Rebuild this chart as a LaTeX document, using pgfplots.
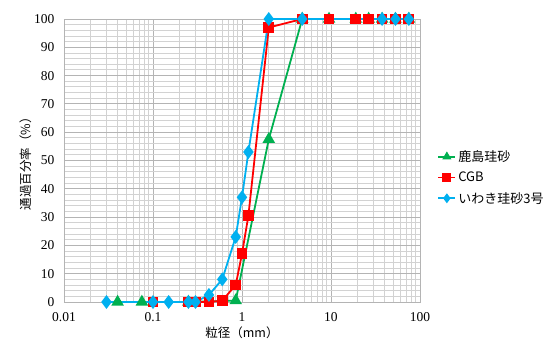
\documentclass[border=0pt]{standalone}
\usepackage{pgfplots}
\pgfplotsset{compat=1.18}
\usepackage{fontspec}
\setmainfont{Liberation Serif}
\newfontfamily\jp{Noto Sans CJK JP}
\definecolor{cgreen}{RGB}{0,176,80}
\definecolor{cred}{RGB}{255,0,0}
\definecolor{cblue}{RGB}{0,176,240}
\definecolor{gmaj}{RGB}{180,180,180}
\definecolor{gmin}{RGB}{210,210,210}
\begin{document}
\begin{tikzpicture}
\path[use as bounding box] (-64pt,-47pt) rectangle (485pt,302pt);
\begin{axis}[
  at={(0,0)}, anchor=south west,
  scale only axis, width=356pt, height=283pt,
  xmode=log, xmin=0.01, xmax=100,
  ymin=0, ymax=100,
  ytick={0,10,...,100},
  minor y tick num=4,
  xtick={0.01,0.1,1,10,100},
  xticklabels={0.01,0.1,1,10,100},
  grid=both,
  major grid style={gmaj, line width=0.9pt},
  minor grid style={gmin, line width=0.9pt},
  axis line style={gmaj, line width=0.9pt},
  major tick length=0pt, minor tick length=0pt,
  tick label style={font=\fontsize{13.5}{15}\selectfont},
  /pgf/number format/assume math mode=true,
  yticklabel style={xshift=-6pt},
  xticklabel style={yshift=-7pt},
  xlabel={\jp\fontsize{12.5}{14}\selectfont 粒径（mm）},
  ylabel={\jp\fontsize{12.5}{14}\selectfont 通過百分率（\%）},
  xlabel style={yshift=2pt},
  ylabel style={yshift=-4pt},
  legend style={at={(1.04,0.44)}, anchor=west, draw=none, fill=none,
    font=\jp\fontsize{13}{15}\selectfont, row sep=5pt},
  legend cell align=left,
  legend image post style={mark size=3.5pt},
  clip=false,
]
\addplot[cgreen, line width=1.8pt, mark=triangle*, mark size=5.5pt, mark options={solid}]
coordinates {(0.04,0) (0.075,0) (0.25,0) (0.85,0.5) (2,57.5) (4.75,100) (9.5,100) (19,100) (26.5,100) (37.5,100) (53,100) (75,100)};
\addlegendentry{鹿島珪砂}
\addplot[cred, line width=1.8pt, mark=square*, mark size=4.5pt, mark options={solid}]
coordinates {(0.1,0) (0.25,0) (0.3,0) (0.425,0) (0.6,0.5) (0.85,6) (1.0,17) (1.18,30.5) (2,97) (4.75,100) (9.5,100) (19,100) (26.5,100) (37.5,100) (53,100) (75,100)};
\addlegendentry{CGB}
\addplot[cblue, line width=1.8pt, mark=diamond*, mark size=5.5pt, mark options={solid}]
coordinates {(0.03,0) (0.1,0) (0.15,0) (0.25,0) (0.3,0) (0.425,2.5) (0.6,8) (0.85,23) (1.0,37) (1.18,53) (2,100) (4.75,100) (37.5,100) (53,100) (75,100)};
\addlegendentry{いわき珪砂3号}
\end{axis}
\end{tikzpicture}
\end{document}
